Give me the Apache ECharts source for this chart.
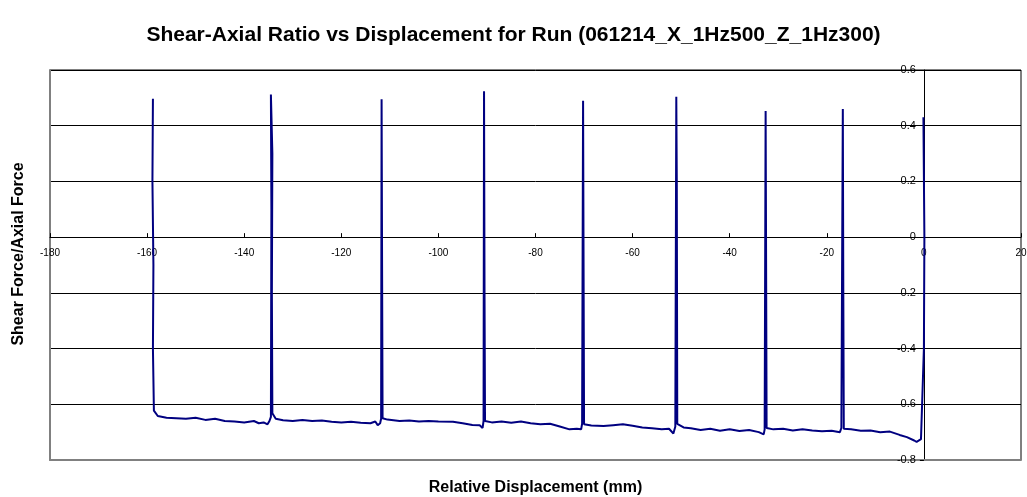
<!DOCTYPE html>
<html>
<head>
<meta charset="utf-8">
<script src="https://cdn.jsdelivr.net/npm/echarts@6/dist/echarts.min.js"></script>
<style>html,body{margin:0;padding:0;background:#fff}#c{width:1027px;height:497px}</style>
</head>
<body>
<div id="c"></div>
<script>
var titleText = 'Shear-Axial Ratio vs Displacement for Run (061214_X_1Hz500_Z_1Hz300)';
var xName = 'Relative Displacement (mm)';
var yName = 'Shear Force/Axial Force';
var xMin = -180, xMax = 20, xStep = 20;
var yMin = -0.8, yMax = 0.6, yStep = 0.2;

// Trace, in drawing order
var displacement = [
  -158.8, -158.9, -158.7, -158.8, -158.6, -157.8, -156, -154, -152, -150, -148, -146, -144, -142, -140, -138, -137, -136, -135.2, -134.8, -134.5,
  -134.4, -134.5, -134.2, -134.3, -134.2, -133.5, -132, -130, -128, -126, -124, -122, -120, -118, -116, -114, -113, -112.5, -112, -111.8,
  -111.7, -111.6, -111.5, -110.5, -108, -106, -104, -102, -100, -97, -95, -93, -91.5, -90.9, -90.7,
  -90.6, -90.5, -90.4, -89, -87, -85, -83, -81, -79, -77, -75, -73, -71.5, -70.6, -70.4,
  -70.2, -70.1, -70, -68.5, -66, -64, -62, -60, -58, -56, -54, -52.5, -51.6, -51.2,
  -51, -50.9, -50.8, -49.5, -48, -46, -44, -42, -40, -38, -36, -34, -33, -32.8,
  -32.6, -32.5, -32.4, -31, -29, -27, -25, -23, -21, -19, -17.3, -17,
  -16.7, -16.6, -16.5, -15, -13, -11, -9, -7, -5, -3.5, -2, -1.5, -0.6, -0.3,
  0, 0.1, -0.1
];
var ratio = [
  0.497, 0.2, -0.1, -0.4, -0.623, -0.642, -0.648, -0.650, -0.652, -0.648, -0.656, -0.652, -0.660, -0.662, -0.665, -0.660, -0.668, -0.665, -0.672, -0.660, -0.645,
  0.1, 0.512, 0.3, -0.2, -0.632, -0.652, -0.657, -0.660, -0.656, -0.660, -0.658, -0.663, -0.665, -0.663, -0.666, -0.668, -0.662, -0.675, -0.668, -0.652,
  0.495, -0.1, -0.650, -0.655, -0.660, -0.658, -0.662, -0.660, -0.662, -0.663, -0.668, -0.674, -0.675, -0.685, -0.660,
  0.524, -0.2, -0.660, -0.665, -0.662, -0.666, -0.662, -0.668, -0.672, -0.670, -0.680, -0.690, -0.688, -0.690, -0.670,
  0.490, -0.1, -0.672, -0.676, -0.678, -0.675, -0.672, -0.677, -0.683, -0.686, -0.690, -0.688, -0.705, -0.680,
  0.504, 0.2, -0.670, -0.683, -0.686, -0.692, -0.688, -0.695, -0.690, -0.696, -0.692, -0.700, -0.708, -0.690,
  0.453, -0.1, -0.685, -0.690, -0.688, -0.694, -0.690, -0.694, -0.697, -0.695, -0.700, -0.685,
  0.460, -0.2, -0.688, -0.690, -0.695, -0.694, -0.700, -0.698, -0.710, -0.718, -0.730, -0.735, -0.725, -0.718,
  -0.4, 0.0, 0.430
];

var pts = displacement.map(function (d, i) { return [d, ratio[i]]; });
var font = '"Liberation Sans", Arial, sans-serif';

var W = 1027, H = 497;
var gLeft = 50, gTop = 70, gRight = 6, gBottom = 37;
var gW = W - gLeft - gRight, gH = H - gTop - gBottom;
// axes cross at zero: shift the value axes inward to the zero position
var xAxisShift = -gH * (0 - yMin) / (yMax - yMin);
var yAxisShift = -gW * (0 - xMin) / (xMax - xMin);

var chart = echarts.init(document.getElementById('c'), null, {renderer: 'canvas'});
chart.setOption({
  animation: false,
  backgroundColor: '#fff',
  title: {
    text: titleText, left: 'center', top: 20,
    textStyle: {fontFamily: font, fontWeight: 'bold', fontSize: 21, color: '#000'}
  },
  grid: {left: gLeft, top: gTop, right: gRight, bottom: gBottom, containLabel: false, outerBoundsMode: 'none',
    show: true, borderColor: '#000', borderWidth: 1},
  xAxis: [{
    type: 'value', min: xMin, max: xMax, interval: xStep, position: 'bottom', offset: xAxisShift,
    axisLine: {onZero: false, lineStyle: {color: '#000', width: 1}},
    axisTick: {inside: true, length: 4, lineStyle: {color: '#000'}},
    axisLabel: {fontFamily: font, fontSize: 10, color: '#000', margin: 11, hideOverlap: false},
    splitLine: {show: false}
  }, {
    type: 'value', min: xMin, max: xMax, position: 'bottom',
    name: xName, nameLocation: 'middle', nameGap: 20,
    nameTextStyle: {fontFamily: font, fontWeight: 'bold', fontSize: 16, color: '#000'},
    axisLine: {onZero: false, lineStyle: {color: '#808080', width: 2}},
    axisTick: {show: false}, axisLabel: {show: false}, splitLine: {show: false}
  }],
  yAxis: [{
    type: 'value', min: yMin, max: yMax, interval: yStep, position: 'left', offset: yAxisShift,
    axisLine: {onZero: false, lineStyle: {color: '#000', width: 1}},
    axisTick: {inside: false, length: 4, lineStyle: {color: '#000'}},
    axisLabel: {fontFamily: font, fontSize: 11, color: '#000', margin: 8, hideOverlap: false,
      formatter: function (v) { return String(Math.round(v * 10) / 10); }},
    splitLine: {show: true, lineStyle: {color: '#000', width: 1}}
  }, {
    type: 'value', min: yMin, max: yMax, position: 'left',
    name: yName, nameLocation: 'middle', nameGap: 23,
    nameTextStyle: {fontFamily: font, fontWeight: 'bold', fontSize: 16, color: '#000', padding: [0, 0, 0, 22]},
    axisLine: {onZero: false, lineStyle: {color: '#808080', width: 2}},
    axisTick: {show: false}, axisLabel: {show: false}, splitLine: {show: false}
  }],
  series: [{
    type: 'line', xAxisIndex: 0, yAxisIndex: 0,
    data: pts, showSymbol: false, symbol: 'none',
    lineStyle: {color: '#000080', width: 2},
    z: 5
  }]
});
</script>
</body>
</html>
